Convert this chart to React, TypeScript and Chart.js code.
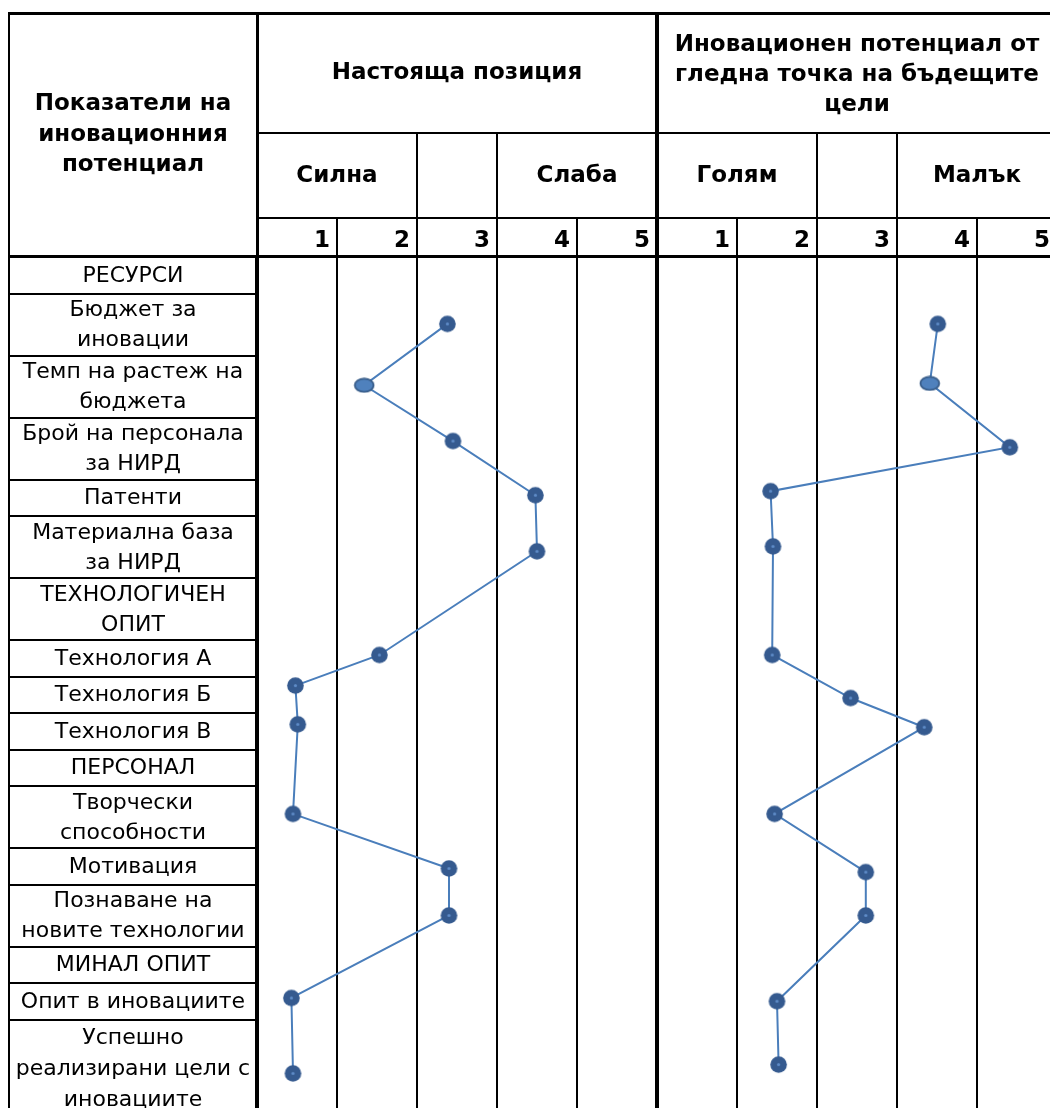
import React, { useEffect, useRef } from "react";
import { Chart, registerables } from "chart.js";

Chart.register(...registerables);

// ---------------- data ----------------
const rowLabels: string[][] = [
  ["РЕСУРСИ"],
  ["Бюджет за", "иновации"],
  ["Темп на растеж на", "бюджета"],
  ["Брой на персонала", "за НИРД"],
  ["Патенти"],
  ["Материална база", "за НИРД"],
  ["ТЕХНОЛОГИЧЕН", "ОПИТ"],
  ["Технология А"],
  ["Технология Б"],
  ["Технология В"],
  ["ПЕРСОНАЛ"],
  ["Творчески", "способности"],
  ["Мотивация"],
  ["Познаване на", "новите технологии"],
  ["МИНАЛ ОПИТ"],
  ["Опит в иновациите"],
  ["Успешно", "реализирани цели с", "иновациите"],
];

// rows (index into rowLabels) that carry an evaluation
const indicatorRows = [1, 2, 3, 4, 5, 7, 8, 9, 11, 12, 13, 15, 16];

// "Настояща позиция" (1 = силна ... 5 = слаба)
const currentPosition = [2.88, 1.84, 2.95, 3.98, 4.0, 2.03, 0.98, 1.01, 0.95, 2.9, 2.9, 0.93, 0.95];
// position of each mark inside its row (0 = top, 1 = bottom)
const currentRowOffset = [0.49, 0.48, 0.38, 0.43, 0.57, 0.41, 0.25, 0.31, 0.45, 0.56, 0.5, 0.41, 0.55];

// "Иновационен потенциал от гледна точка на бъдещите цели" (1 = голям ... 5 = малък)
const futurePotential = [4.01, 3.91, 4.91, 1.92, 1.95, 1.94, 2.92, 3.84, 1.97, 3.11, 3.11, 2.0, 2.02];
const futureRowOffset = [0.49, 0.45, 0.48, 0.32, 0.49, 0.41, 0.59, 0.39, 0.45, 0.66, 0.5, 0.5, 0.46];

const scaleTicks = ["1", "2", "3", "4", "5"];
const headerLabel = ["Показатели на", "иновационния", "потенциал"];
const leftTitle = ["Настояща позиция"];
const rightTitle = ["Иновационен потенциал от", "гледна точка на бъдещите", "цели"];
const leftGroups = ["Силна", "", "Слаба"];
const rightGroups = ["Голям", "", "Малък"];
const groupSpans = [2, 1, 2];
const ellipseMarkerIndex = 1;

// ---------------- layout ----------------
const W = 1050;
const H = 1108;
const TABLE_LEFT = 9;
const TABLE_TOP = 13;
const PLOT_LEFT = 257;
const PLOT_TOP = 257;
const COL_W = 80;
const ROW1_BOTTOM = 133;
const ROW2_BOTTOM = 218;

const rowHeight = (lines: number) => (lines === 1 ? 36.5 : lines === 2 ? 62 : 98);
const rowTops: number[] = [];
{
  let acc = 0;
  rowLabels.forEach((r) => {
    rowTops.push(acc);
    acc += rowHeight(r.length);
  });
}
const rowY = (row: number, frac: number) => rowTops[row] + frac * rowHeight(rowLabels[row].length);

const FONT_BOLD = "bold 23px 'DejaVu Sans'";
const FONT_REG = "22px 'DejaVu Sans'";

function makeDot(): HTMLCanvasElement {
  const c = document.createElement("canvas");
  c.width = 19;
  c.height = 19;
  const g = c.getContext("2d")!;
  g.beginPath();
  g.arc(9.5, 9.5, 8.3, 0, Math.PI * 2);
  g.fillStyle = "#355a8f";
  g.fill();
  g.beginPath();
  g.arc(9.5, 9.5, 1.6, 0, Math.PI * 2);
  g.fillStyle = "#5f8cc8";
  g.fill();
  return c;
}

function makeEllipse(): HTMLCanvasElement {
  const c = document.createElement("canvas");
  c.width = 22;
  c.height = 16;
  const g = c.getContext("2d")!;
  g.beginPath();
  g.ellipse(11, 8, 9.4, 6.6, 0, 0, Math.PI * 2);
  g.fillStyle = "#4f81bd";
  g.fill();
  g.lineWidth = 1.8;
  g.strokeStyle = "#385d8a";
  g.stroke();
  return c;
}

const tablePlugin = {
  id: "tableFrame",
  afterDraw(chart: any) {
    const ctx: CanvasRenderingContext2D = chart.ctx;
    const xs = chart.scales.x;
    const ys = chart.scales.y;
    const px = (c: number) => Math.round(xs.getPixelForValue(c));
    ctx.save();
    ctx.fillStyle = "#000";
    ctx.strokeStyle = "#000";
    const hline = (y: number, x1: number, x2: number, w: number) => {
      ctx.fillRect(x1, Math.round(y - w / 2), x2 - x1, w);
    };
    const vline = (x: number, y1: number, y2: number, w: number) => {
      ctx.fillRect(Math.round(x - w / 2), y1, w, y2 - y1);
    };

    // frame
    hline(TABLE_TOP, TABLE_LEFT - 1, W, 3);
    vline(TABLE_LEFT, TABLE_TOP, H, 2);
    vline(PLOT_LEFT, TABLE_TOP, PLOT_TOP, 3);
    hline(ROW1_BOTTOM, PLOT_LEFT, W, 2);
    hline(ROW2_BOTTOM, PLOT_LEFT, W, 2);
    hline(PLOT_TOP - 1, TABLE_LEFT - 1, W, 3);

    // header verticals
    for (let c = 1; c < 10; c++) {
      if (c === 5) vline(px(c), TABLE_TOP, PLOT_TOP, 4);
      else if (c === 2 || c === 3 || c === 7 || c === 8) vline(px(c), ROW1_BOTTOM, PLOT_TOP, 2);
      else vline(px(c), ROW2_BOTTOM, PLOT_TOP, 2);
    }

    // label rows
    rowLabels.forEach((_, i) => {
      const y = ys.getPixelForValue(rowTops[i]);
      if (i > 0) hline(y, TABLE_LEFT, PLOT_LEFT, 2);
    });

    const textBlock = (lines: string[], cx: number, cy: number, gap: number) => {
      const n = lines.length;
      lines.forEach((t, k) => {
        ctx.fillText(t, cx, cy + (k - (n - 1) / 2) * gap);
      });
    };

    ctx.textAlign = "center";
    ctx.textBaseline = "middle";
    ctx.font = FONT_BOLD;
    textBlock(headerLabel, (TABLE_LEFT + PLOT_LEFT) / 2, 135, 30.5);
    textBlock(leftTitle, (px(0) + px(5)) / 2, 73, 30);
    textBlock(rightTitle, (px(5) + px(10)) / 2, 75, 30);

    const drawGroups = (groups: string[], start: number) => {
      let c = start;
      groups.forEach((g, k) => {
        const span = groupSpans[k];
        if (g) ctx.fillText(g, (px(c) + px(c + span)) / 2, 176);
        c += span;
      });
    };
    drawGroups(leftGroups, 0);
    drawGroups(rightGroups, 5);

    ctx.textAlign = "right";
    for (let c = 0; c < 10; c++) {
      ctx.fillText(scaleTicks[c % 5], px(c + 1) - 7, 241);
    }

    ctx.textAlign = "center";
    ctx.font = FONT_REG;
    rowLabels.forEach((lines, i) => {
      const top = ys.getPixelForValue(rowTops[i]);
      const h = rowHeight(lines.length);
      textBlock(lines, (TABLE_LEFT + PLOT_LEFT) / 2, top + h / 2 + 1, lines.length === 3 ? 31 : 30);
    });
    ctx.restore();
  },
};

export default function App() {
  const ref = useRef<HTMLCanvasElement>(null);

  useEffect(() => {
    if (!ref.current) return;
    const dot = makeDot();
    const ell = makeEllipse();
    const marker = (c: any) => (c.dataIndex === ellipseMarkerIndex ? ell : dot);

    const chart = new Chart(ref.current, {
      type: "scatter",
      data: {
        datasets: [
          {
            label: "Настояща позиция",
            data: currentPosition.map((v, i) => ({ x: v - 0.5, y: rowY(indicatorRows[i], currentRowOffset[i]) })),
            showLine: true,
            borderColor: "#4a7ebb",
            borderWidth: 2,
            tension: 0,
            pointStyle: marker as any,
            pointRadius: 8,
            pointHoverRadius: 8,
          },
          {
            label: "Иновационен потенциал",
            data: futurePotential.map((v, i) => ({ x: v + 4.5, y: rowY(indicatorRows[i], futureRowOffset[i]) })),
            showLine: true,
            borderColor: "#4a7ebb",
            borderWidth: 2,
            tension: 0,
            pointStyle: marker as any,
            pointRadius: 8,
            pointHoverRadius: 8,
          },
        ],
      },
      options: {
        responsive: false,
        animation: false,
        devicePixelRatio: 1,
        events: [],
        layout: { autoPadding: false, padding: { left: PLOT_LEFT, top: PLOT_TOP, right: 0, bottom: 0 } },
        plugins: { legend: { display: false }, tooltip: { enabled: false } },
        scales: {
          x: {
            type: "linear",
            position: "top",
            min: 0,
            max: (W - PLOT_LEFT) / COL_W,
            afterBuildTicks: (s: any) => {
              s.ticks = Array.from({ length: 10 }, (_, i) => ({ value: i }));
            },
            ticks: { display: false },
            border: { display: false },
            grid: {
              color: "#000",
              drawTicks: false,
              lineWidth: (c: any) => (c.tick && (c.tick.value === 5 || c.tick.value === 0) ? 4 : 2),
            },
          },
          y: {
            type: "linear",
            display: false,
            reverse: true,
            min: 0,
            max: H - PLOT_TOP,
          },
        },
      },
      plugins: [tablePlugin],
    });
    return () => chart.destroy();
  }, []);

  return (
    <div style={{ position: "absolute", left: 0, top: 0, width: W, height: H, background: "#fff" }}>
      <canvas ref={ref} width={W} height={H} style={{ display: "block" }} />
    </div>
  );
}
